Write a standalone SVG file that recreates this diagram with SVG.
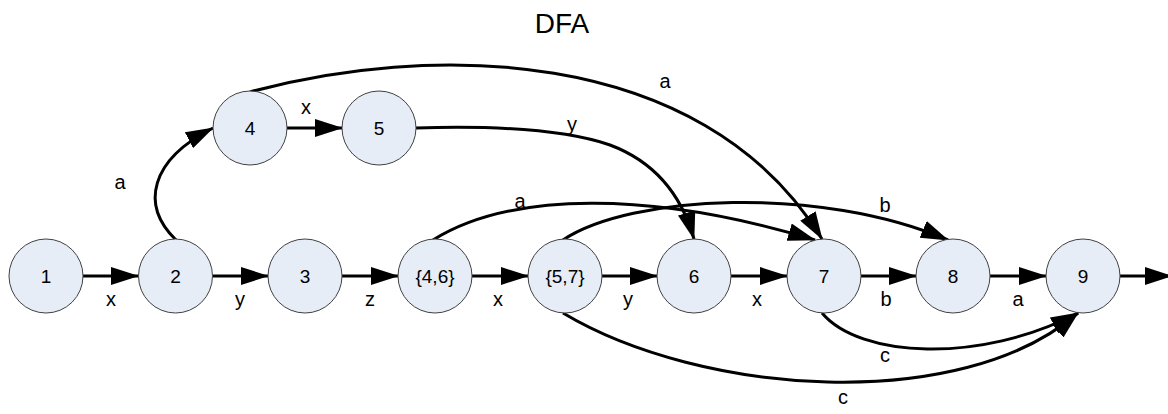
<svg xmlns="http://www.w3.org/2000/svg" width="1168" height="414" viewBox="0 0 1168 414">
<style>
.n{fill:#e7edf7;stroke:#404040;stroke-width:1}
.t{font-family:"Liberation Sans",Arial,sans-serif;font-size:19px;fill:#000;text-anchor:middle}
.l{font-family:"Liberation Sans",Arial,sans-serif;font-size:20px;fill:#000;text-anchor:middle}
.e{fill:none;stroke:#000;stroke-width:3;marker-end:url(#ah)}
</style>
<defs>
<marker id="ah" markerUnits="userSpaceOnUse" markerWidth="28" markerHeight="18" refX="27" refY="9" orient="auto" viewBox="0 0 28 18">
<path d="M0,0 L28,9 L0,18 z" fill="#000"/>
</marker>
</defs>
<rect width="1168" height="414" fill="#fff"/>
<text x="562" y="33" font-family="Liberation Sans,Arial,sans-serif" font-size="28" text-anchor="middle">DFA</text>
<g id="edges">
<path class="e" d="M83,276 L138,276"/>
<path class="e" d="M213,276 L268,276"/>
<path class="e" d="M342,276 L398,276"/>
<path class="e" d="M472,276 L528,276"/>
<path class="e" d="M602,276 L657,276"/>
<path class="e" d="M731,276 L787,276"/>
<path class="e" d="M861,276 L916,276"/>
<path class="e" d="M990,276 L1046,276"/>
<path class="e" d="M1120,276 L1172,276"/>
<path class="e" d="M287,128 L342,128"/>
<path class="e" d="M176,240 C140,205 150,160 213,128"/>
<path class="e" d="M250,92 C420,45 700,40 822,239"/>
<path class="e" d="M416,128 C480,126 560,128 610,145 C650,160 680,190 694,239"/>
<path class="e" d="M433,240 C510,192 650,190 815,240"/>
<path class="e" d="M563,240 C630,195 820,185 948,240"/>
<path class="e" d="M822,313 C860,358 980,364 1078,313"/>
<path class="e" d="M563,313 C700,395 960,415 1078,313"/>
</g>
<g id="labels">
<text class="l" x="111" y="306">x</text>
<text class="l" x="240" y="306">y</text>
<text class="l" x="370" y="306">z</text>
<text class="l" x="498" y="306">x</text>
<text class="l" x="628" y="306">y</text>
<text class="l" x="757" y="306">x</text>
<text class="l" x="886" y="306">b</text>
<text class="l" x="1018" y="306">a</text>
<text class="l" x="120" y="189">a</text>
<text class="l" x="306" y="114">x</text>
<text class="l" x="572" y="131">y</text>
<text class="l" x="665" y="88">a</text>
<text class="l" x="520" y="208">a</text>
<text class="l" x="885" y="212">b</text>
<text class="l" x="885" y="362">c</text>
<text class="l" x="843" y="404">c</text>
</g>
<g id="n1"><circle class="n" cx="46" cy="276" r="37"/><text class="t" x="46" y="283">1</text></g>
<g id="n2"><circle class="n" cx="175.5" cy="276" r="37"/><text class="t" x="175.5" y="283">2</text></g>
<g id="n3"><circle class="n" cx="305" cy="276" r="37"/><text class="t" x="305" y="283">3</text></g>
<g id="n46"><circle class="n" cx="435" cy="276" r="37"/><text class="t" x="435" y="283">{4,6}</text></g>
<g id="n57"><circle class="n" cx="565" cy="276" r="37"/><text class="t" x="565" y="283">{5,7}</text></g>
<g id="n6"><circle class="n" cx="694" cy="276" r="37"/><text class="t" x="694" y="283">6</text></g>
<g id="n7"><circle class="n" cx="824" cy="276" r="37"/><text class="t" x="824" y="283">7</text></g>
<g id="n8"><circle class="n" cx="953" cy="276" r="37"/><text class="t" x="953" y="283">8</text></g>
<g id="n9"><circle class="n" cx="1083" cy="276" r="37"/><text class="t" x="1083" y="283">9</text></g>
<g id="n4"><circle class="n" cx="250" cy="128" r="37"/><text class="t" x="250" y="135">4</text></g>
<g id="n5"><circle class="n" cx="379" cy="128" r="37"/><text class="t" x="379" y="135">5</text></g>
</svg>
